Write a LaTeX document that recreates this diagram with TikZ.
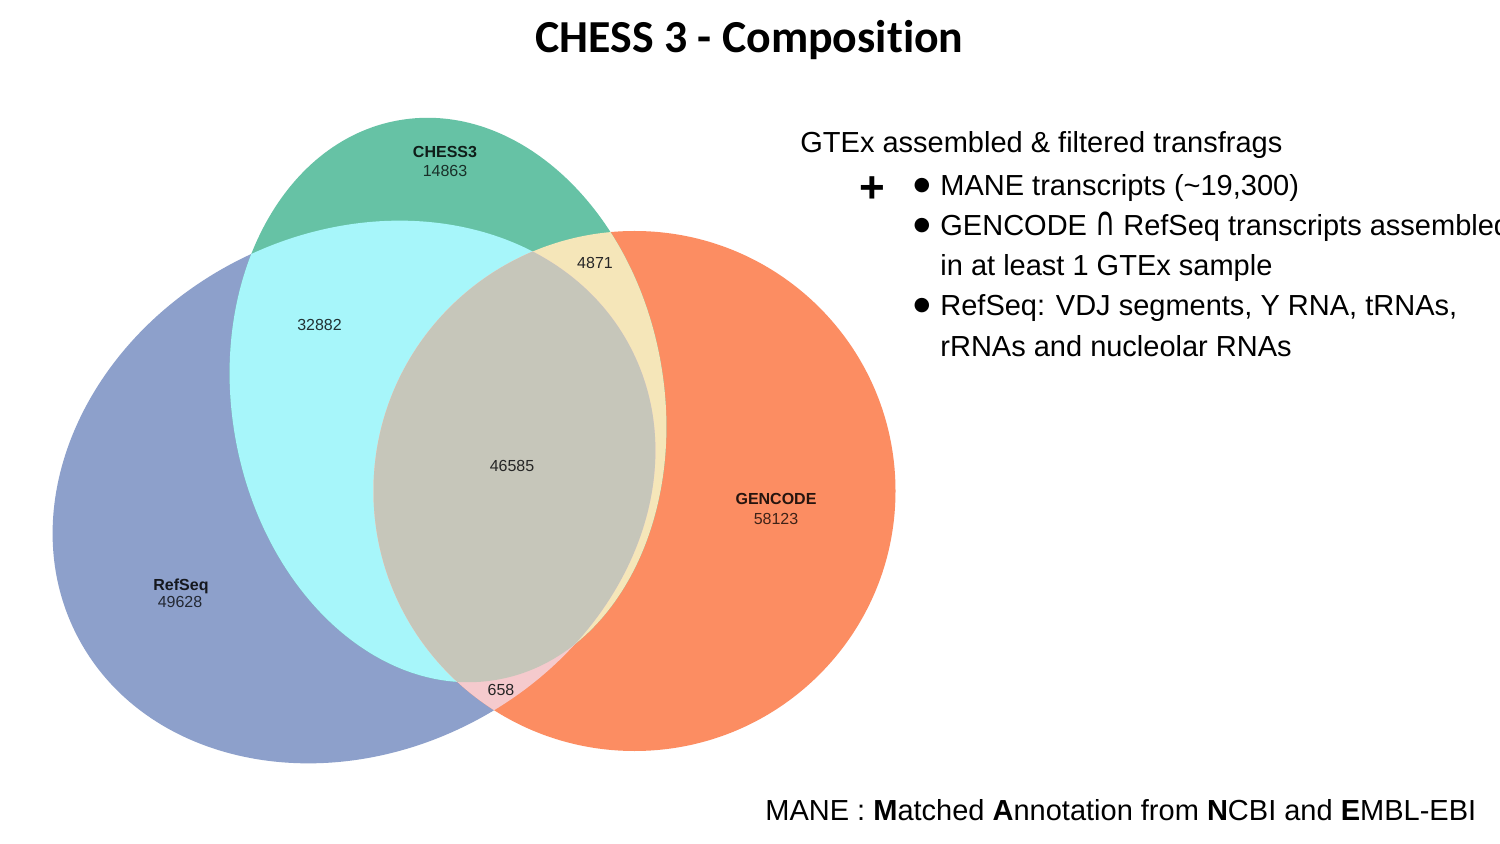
\documentclass[tikz,border=0pt]{standalone}
\usepackage{fontspec}
\usepackage{graphicx}
\setmainfont{Liberation Sans}
\newfontfamily\titlefont[Ligatures=NoCommon]{Carlito}
\newfontfamily\symfont{DejaVu Sans}
\definecolor{cRef}{HTML}{8DA0CB}
\definecolor{cGen}{HTML}{FC8D62}
\definecolor{cChe}{HTML}{66C2A5}
\definecolor{cCyan}{HTML}{A7F6FA}
\definecolor{cYel}{HTML}{F5E6B9}
\definecolor{cPink}{HTML}{F5CACD}
\definecolor{cGrey}{HTML}{C6C6BA}
\newcommand\RefE{(354,492) ellipse [x radius=312, y radius=259]}
\newcommand\GenE{(634.5,491) ellipse [x radius=261, y radius=260]}
\newcommand\CheE{(448,400) ellipse [x radius=216, y radius=284]}
\begin{document}
\begin{tikzpicture}[x=0.5pt,y=-0.5pt,
  refT/.style={rotate around={27.7:(354,492)}},
  cheT/.style={rotate around={10:(448,400)}},
  lab/.style={font=\fontsize{8}{9.6}\selectfont, inner sep=0pt, anchor=base},
  labb/.style={font=\fontsize{8}{9.6}\selectfont\bfseries, inner sep=0pt, anchor=base},
  txt/.style={font=\fontsize{14.5}{17}\selectfont, inner sep=0pt, anchor=base west},
  bul/.style={font=\symfont\fontsize{9.5}{11}\selectfont, inner sep=0pt, anchor=center}]
\clip (0,0) rectangle (1500,844);
\fill[white] (0,0) rectangle (1500,844);
% base sets
\fill[cRef, refT] \RefE;
\fill[cGen] \GenE;
\fill[cChe, cheT] \CheE;
% pairwise intersections
\begin{scope}
  \clip[cheT] \CheE;
  \fill[cCyan, refT] \RefE;
  \fill[cYel] \GenE;
\end{scope}
\begin{scope}
  \clip[refT] \RefE;
  \fill[cPink] \GenE;
\end{scope}
\begin{scope}
  \clip[cheT] \CheE;
  \clip[refT] \RefE;
  \fill[cGrey] \GenE;
\end{scope}
% venn labels
\node[labb, text=cChe!15!black] (cheN) at (445,158) {CHESS3};
\node[lab, text=cChe!25!black] (cheV) at (445,177) {14863};
\node[lab, text=black!85] (cgV) at (595,269) {4871};
\node[lab, text=cCyan!20!black] (crV) at (319.5,331) {32882};
\node[lab, text=black!85] (allV) at (512,472) {46585};
\node[labb, text=cGen!15!black] (genN) at (776,505) {GENCODE};
\node[lab, text=cGen!25!black] (genV) at (776,524) {58123};
\node[labb, text=cRef!15!black] (refN) at (181,590) {RefSeq};
\node[lab, text=cRef!25!black] (refV) at (180,608) {49628};
\node[lab, text=black!85] (rgV) at (501,695) {658};
% title
\node[font=\titlefont\fontsize{22.9}{27}\selectfont\bfseries, inner sep=0pt, anchor=base] (title) at (749.5,53) {CHESS 3 - Composition};
% right text
\node[txt] (t0) at (800,153) {GTEx assembled \& filtered transfrags};
\node[font=\fontsize{22}{24}\selectfont\bfseries, inner sep=0pt, anchor=center] (plus) at (872,190) {+};
\node[bul] (b1) at (922,186) {●};
\node[txt] (t1) at (940,196) {MANE transcripts (\textasciitilde19,300)};
\node[bul] (b2) at (922,226) {●};
\node[txt] (t2) at (940,236) {GENCODE \scalebox{0.95}[1.4]{\symfont ∩} RefSeq transcripts assembled};
\node[txt] (t3) at (940,276) {in at least 1 GTEx sample};
\node[bul] (b3) at (922,306) {●};
\node[txt] (t4) at (940,316) {RefSeq: VDJ segments, Y RNA, tRNAs,};
\node[txt] (t5) at (940,357) {rRNAs and nucleolar RNAs};
% footnote
\node[txt] (foot) at (765,820) {MANE : \textbf{M}atched \textbf{A}nnotation from \textbf{N}CBI and \textbf{E}MBL-EBI};
\end{tikzpicture}
\end{document}
